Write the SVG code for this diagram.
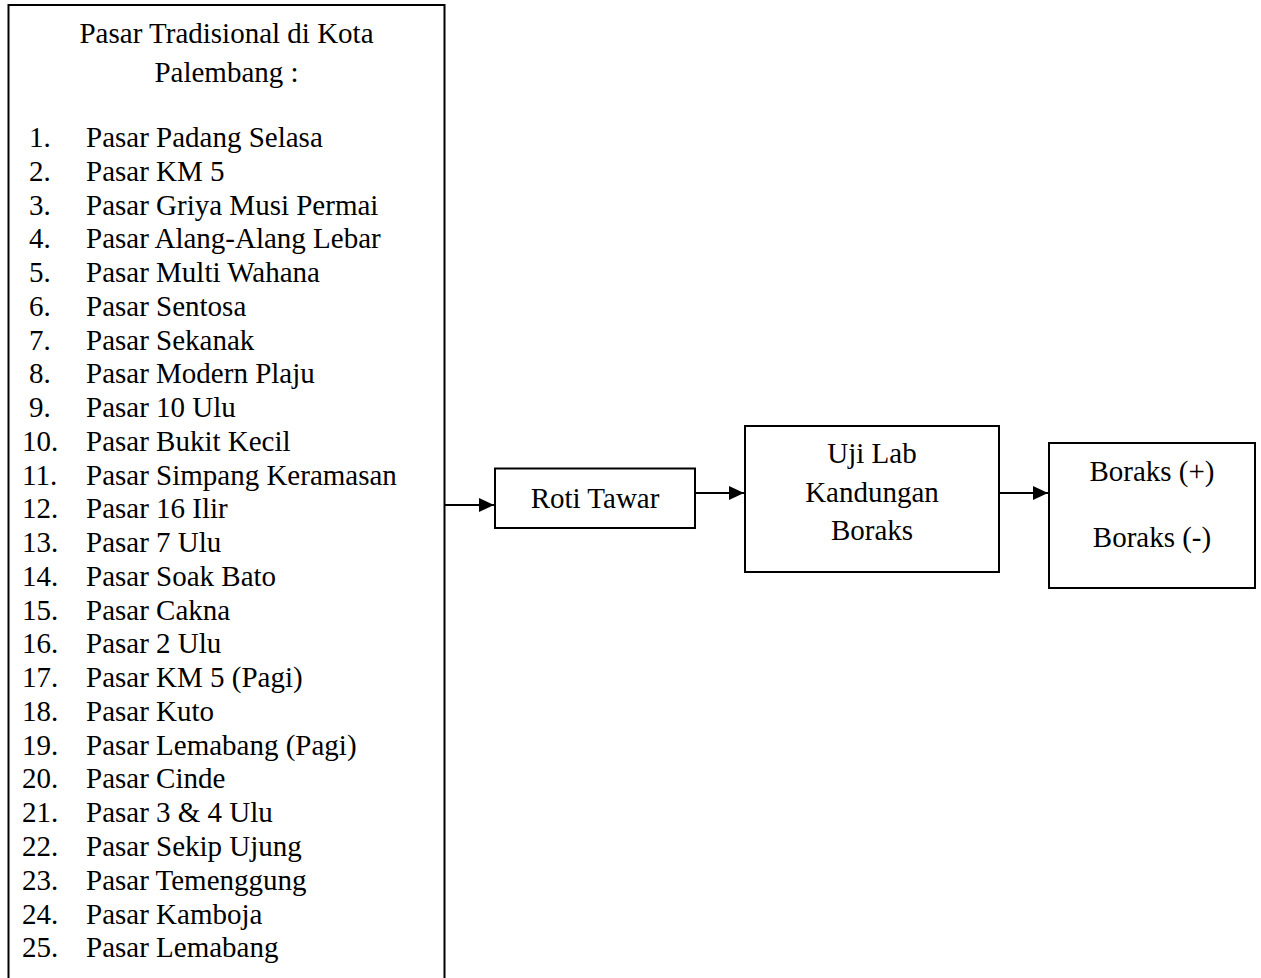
<svg xmlns="http://www.w3.org/2000/svg" width="1261" height="978" viewBox="0 0 1261 978">
<defs>
<marker id="arr" viewBox="0 0 15 14" refX="15" refY="7" markerWidth="15" markerHeight="14" markerUnits="userSpaceOnUse" orient="auto">
<path d="M0,0 L15,7 L0,14 Z" fill="#000"/>
</marker>
<style>
.box{fill:#fff;stroke:#000;stroke-width:2}
text{font-family:"Liberation Serif","Times New Roman",serif;font-size:29px;fill:#000}
.c{text-anchor:middle}
.edge{stroke:#000;stroke-width:2;fill:none;marker-end:url(#arr)}
</style>
</defs>
<rect width="1261" height="978" fill="#fff"/>
<g id="pasar">
<path class="box" d="M8.5,990 V5 H444.5 V990"/>
<text class="c" x="226.5" y="43">Pasar Tradisional di Kota</text>
<text class="c" x="226.5" y="82">Palembang :</text>
<g>
<text x="29" y="147">1.</text><text x="86" y="147">Pasar Padang Selasa</text>
<text x="29" y="180.8">2.</text><text x="86" y="180.8">Pasar KM 5</text>
<text x="29" y="214.5">3.</text><text x="86" y="214.5">Pasar Griya Musi Permai</text>
<text x="29" y="248.3">4.</text><text x="86" y="248.3">Pasar Alang-Alang Lebar</text>
<text x="29" y="282">5.</text><text x="86" y="282">Pasar Multi Wahana</text>
<text x="29" y="315.8">6.</text><text x="86" y="315.8">Pasar Sentosa</text>
<text x="29" y="349.6">7.</text><text x="86" y="349.6">Pasar Sekanak</text>
<text x="29" y="383.3">8.</text><text x="86" y="383.3">Pasar Modern Plaju</text>
<text x="29" y="417.1">9.</text><text x="86" y="417.1">Pasar 10 Ulu</text>
<text x="22" y="450.8">10.</text><text x="86" y="450.8">Pasar Bukit Kecil</text>
<text x="22" y="484.6">11.</text><text x="86" y="484.6">Pasar Simpang Keramasan</text>
<text x="22" y="518.4">12.</text><text x="86" y="518.4">Pasar 16 Ilir</text>
<text x="22" y="552.1">13.</text><text x="86" y="552.1">Pasar 7 Ulu</text>
<text x="22" y="585.9">14.</text><text x="86" y="585.9">Pasar Soak Bato</text>
<text x="22" y="619.6">15.</text><text x="86" y="619.6">Pasar Cakna</text>
<text x="22" y="653.4">16.</text><text x="86" y="653.4">Pasar 2 Ulu</text>
<text x="22" y="687.2">17.</text><text x="86" y="687.2">Pasar KM 5 (Pagi)</text>
<text x="22" y="720.9">18.</text><text x="86" y="720.9">Pasar Kuto</text>
<text x="22" y="754.7">19.</text><text x="86" y="754.7">Pasar Lemabang (Pagi)</text>
<text x="22" y="788.4">20.</text><text x="86" y="788.4">Pasar Cinde</text>
<text x="22" y="822.2">21.</text><text x="86" y="822.2">Pasar 3 &amp; 4 Ulu</text>
<text x="22" y="856">22.</text><text x="86" y="856">Pasar Sekip Ujung</text>
<text x="22" y="889.7">23.</text><text x="86" y="889.7">Pasar Temenggung</text>
<text x="22" y="923.5">24.</text><text x="86" y="923.5">Pasar Kamboja</text>
<text x="22" y="957.2">25.</text><text x="86" y="957.2">Pasar Lemabang</text>
</g>
</g>
<g id="roti">
<rect class="box" x="495" y="468.5" width="200" height="59.5"/>
<text class="c" x="595" y="508">Roti Tawar</text>
</g>
<g id="ujilab">
<rect class="box" x="745" y="426" width="254" height="146"/>
<text class="c" x="872" y="463">Uji Lab</text>
<text class="c" x="872" y="502">Kandungan</text>
<text class="c" x="872" y="540">Boraks</text>
</g>
<g id="hasil">
<rect class="box" x="1049" y="443" width="206" height="145"/>
<text class="c" x="1152" y="481">Boraks (+)</text>
<text class="c" x="1152" y="547">Boraks (-)</text>
</g>
<g id="connectors">
<line class="edge" x1="445" y1="505" x2="494" y2="505"/>
<line class="edge" x1="695" y1="493" x2="744" y2="493"/>
<line class="edge" x1="999" y1="493" x2="1048" y2="493"/>
</g>
</svg>
